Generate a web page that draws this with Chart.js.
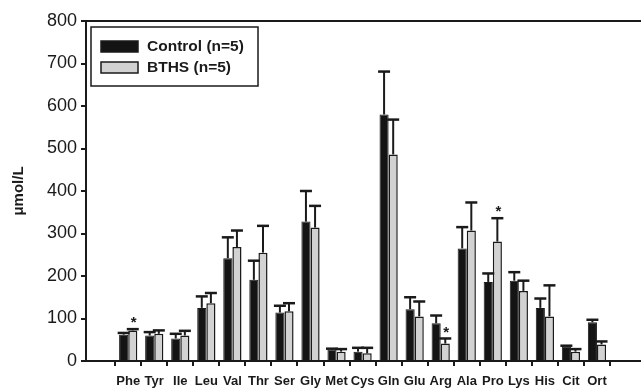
<!DOCTYPE html>
<html>
<head>
<meta charset="utf-8">
<script src="https://cdn.jsdelivr.net/npm/chart.js@4"></script>
<style>
  html, body { margin: 0; padding: 0; background: #fff; }
  #wrap { width: 641px; height: 389px; }
</style>
</head>
<body>
<div id="wrap"><canvas id="myChart" width="641" height="389"></canvas></div>
<script>
const INK = '#1a1a1a';
const BLACK_BAR = '#141414';
const GRAY_BAR = '#d2d2d2';

// data
const aminoAcids = ['Phe', 'Tyr', 'Ile', 'Leu', 'Val', 'Thr', 'Ser', 'Gly', 'Met', 'Cys',
                    'Gln', 'Glu', 'Arg', 'Ala', 'Pro', 'Lys', 'His', 'Cit', 'Ort'];
const controlMean = [62, 60, 53, 125, 242, 191, 114, 328, 27, 22, 580, 122, 89, 265, 186, 189, 125, 35, 91];
const controlSD   = [4, 8, 11, 27, 49, 45, 16, 72, 2, 9, 101, 28, 18, 50, 20, 20, 22, 1, 6];
const bthsMean    = [72, 64, 60, 136, 268, 255, 117, 314, 22, 18, 486, 105, 41, 307, 281, 165, 105, 22, 39];
const bthsSD      = [3, 8, 11, 24, 39, 63, 19, 51, 6, 13, 82, 35, 12, 66, 55, 24, 73, 6, 7];
const bthsSignificant = ['Phe', 'Arg', 'Pro'];
const yTicks = [0, 100, 200, 300, 400, 500, 600, 700, 800];

function toPoints(values) {
    return values.map((v, i) => ({ x: i, y: v }));
}

// upper error bars + significance stars
const errorBars = {
    id: 'errorBars',
    afterDatasetsDraw(chart) {
        const ctx = chart.ctx;
        const y = chart.scales.y;
        const sds = [controlSD, bthsSD];
        ctx.save();
        ctx.strokeStyle = INK;
        chart.data.datasets.forEach((ds, d) => {
            const meta = chart.getDatasetMeta(d);
            meta.data.forEach((bar, i) => {
                const top = y.getPixelForValue(ds.data[i].y + sds[d][i]);
                ctx.lineWidth = 2;
                ctx.beginPath();
                ctx.moveTo(bar.x, bar.y);
                ctx.lineTo(bar.x, top);
                ctx.stroke();
                ctx.lineWidth = 2.5;
                ctx.beginPath();
                ctx.moveTo(bar.x - 6, top);
                ctx.lineTo(bar.x + 6, top);
                ctx.stroke();
                if (d === 1 && bthsSignificant.includes(aminoAcids[i])) {
                    ctx.fillStyle = INK;
                    ctx.font = 'bold 15px Arial, "Liberation Sans"';
                    ctx.textAlign = 'center';
                    ctx.textBaseline = 'middle';
                    ctx.fillText('*', bar.x + 1, top - 6);
                }
            });
        });
        ctx.restore();
    }
};

// boxed legend inside the plot area
const boxLegend = {
    id: 'boxLegend',
    afterDraw(chart) {
        const ctx = chart.ctx;
        const area = chart.chartArea;
        const bx = area.left + 5, by = area.top + 6, bw = 167, bh = 59;
        ctx.save();
        ctx.strokeStyle = INK;
        ctx.lineWidth = 1.5;
        ctx.strokeRect(bx, by, bw, bh);
        ctx.font = 'bold 15.5px Arial, "Liberation Sans"';
        ctx.textBaseline = 'middle';
        ctx.textAlign = 'left';
        chart.data.datasets.forEach((ds, d) => {
            const rowY = by + 19 + d * 21;
            ctx.fillStyle = ds.backgroundColor;
            ctx.fillRect(bx + 10, rowY - 5, 37, 11);
            ctx.lineWidth = 1.5;
            ctx.strokeRect(bx + 10, rowY - 5, 37, 11);
            ctx.fillStyle = INK;
            ctx.fillText(ds.label, bx + 56, rowY + 1);
        });
        ctx.restore();
    }
};

const ctx = document.getElementById('myChart').getContext('2d');
new Chart(ctx, {
    type: 'bar',
    data: {
        datasets: [
            {
                label: 'Control (n=5)',
                data: toPoints(controlMean),
                backgroundColor: BLACK_BAR,
                borderColor: INK,
                borderWidth: 1
            },
            {
                label: 'BTHS (n=5)',
                data: toPoints(bthsMean),
                backgroundColor: GRAY_BAR,
                borderColor: INK,
                borderWidth: 1.5
            }
        ]
    },
    options: {
        responsive: false,
        animation: false,
        layout: { padding: { top: 21, right: 0, left: 0, bottom: 0 } },
        datasets: {
            bar: { categoryPercentage: 0.7, barPercentage: 1.0 }
        },
        plugins: {
            legend: { display: false },
            tooltip: { enabled: false }
        },
        scales: {
            x: {
                type: 'linear',
                min: -1.06,
                max: 19.13,
                afterFit(scale) { scale.height = 28; },
                afterBuildTicks(scale) {
                    scale.ticks = aminoAcids.map((_, i) => ({ value: i }));
                },
                border: { color: INK, width: 2 },
                grid: { drawOnChartArea: false, drawTicks: true, tickLength: 5, color: INK, lineWidth: 2 },
                ticks: {
                    autoSkip: false,
                    maxRotation: 0,
                    padding: 8,
                    color: INK,
                    font: { family: 'Arial, "Liberation Sans"', size: 13, weight: 'bold' },
                    callback: (v) => aminoAcids[v] || ''
                }
            },
            y: {
                min: 0,
                max: 800,
                afterFit(scale) { scale.width = 86; },
                afterBuildTicks(scale) {
                    scale.ticks = yTicks.map(v => ({ value: v }));
                },
                border: { color: INK, width: 2 },
                grid: {
                    color: (c) => c.tick && c.tick.value === 800 ? INK : 'rgba(0,0,0,0)',
                    tickColor: INK,
                    tickLength: 5,
                    lineWidth: 2
                },
                ticks: {
                    padding: 4,
                    color: INK,
                    font: { family: 'Arial, "Liberation Sans"', size: 18 }
                },
                title: {
                    display: true,
                    text: 'μmol/L',
                    color: INK,
                    padding: { top: 10, bottom: 0 },
                    font: { family: 'Arial, "Liberation Sans"', size: 15, weight: 'bold' }
                }
            }
        }
    },
    plugins: [errorBars, boxLegend]
});
</script>
</body>
</html>
